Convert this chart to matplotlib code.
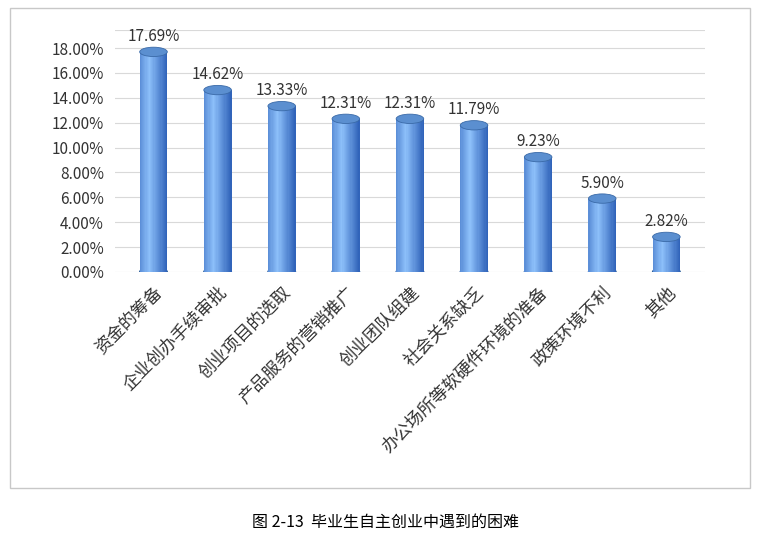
import matplotlib
matplotlib.use("Agg")
import matplotlib.pyplot as plt
from matplotlib.patches import Ellipse, Rectangle
import numpy as np

plt.rcParams['font.family'] = ['Noto Sans CJK SC', 'DejaVu Sans']

categories = ["资金的筹备", "企业创办手续审批", "创业项目的选取", "产品服务的营销推广",
              "创业团队组建", "社会关系缺乏", "办公场所等软硬件环境的准备", "政策环境不利", "其他"]
values = [17.69, 14.62, 13.33, 12.31, 12.31, 11.79, 9.23, 5.90, 2.82]
yticks = [0, 2, 4, 6, 8, 10, 12, 14, 16, 18]

fig = plt.figure(figsize=(7.72, 5.37), dpi=100)
fig.patches.append(Rectangle((10/772, 1-488/537), 740/772, 480/537, transform=fig.transFigure,
                             fill=False, edgecolor='#c8c8c8', lw=1))
ymax = 19.45
ax = fig.add_axes([0.149, 0.4935, 0.764, 0.4507])
x = np.arange(len(values))
w = 0.43
eh = 0.75
n = 24
cmap_l = np.array([0.18, 0.38, 0.72])
cmap_h = np.array([0.55, 0.75, 0.98])
for i in range(n):
    t = (i + 0.5) / n
    s = 1 - abs(t - 0.35) / 0.65
    col = cmap_l + (cmap_h - cmap_l) * s
    ax.bar(x - w/2 + i*w/n, values, width=w/n + 0.002, align='edge', color=col, lw=0, zorder=3)
for xi, v in zip(x, values):
    ax.add_patch(Ellipse((xi, 0), w, eh, color='#2a5d9a', zorder=2.9))
    ax.add_patch(Ellipse((xi, v), w, eh, facecolor='#5b8fd0', edgecolor='#3a6aa8', lw=0.6, zorder=4))
    ax.text(xi, v + 0.55, f"{v:.2f}%", ha='center', va='bottom', fontsize=11, color='#333333', zorder=5)

ax.set_xlim(-0.6, len(values) - 0.4)
ax.set_ylim(0, ymax)
ax.set_yticks(yticks)
ax.set_yticklabels([f"{t:.2f}%" for t in yticks], fontsize=11, color='#333333')
for g in yticks + [ymax]:
    ax.axhline(g, color='#d9d9d9', lw=0.8, zorder=0)
ax.set_xticks(x)
ax.set_xticklabels(categories, rotation=45, ha='right', va='top', rotation_mode='anchor',
                   fontsize=12.5, color='#333333')
ax.tick_params(length=0, pad=8)
for s in ax.spines.values():
    s.set_visible(False)

fig.text(0.5, 1 - 522/537, "图 2-13  毕业生自主创业中遇到的困难", ha='center', va='center', fontsize=11.5)
fig.savefig("out.png", dpi=100)
